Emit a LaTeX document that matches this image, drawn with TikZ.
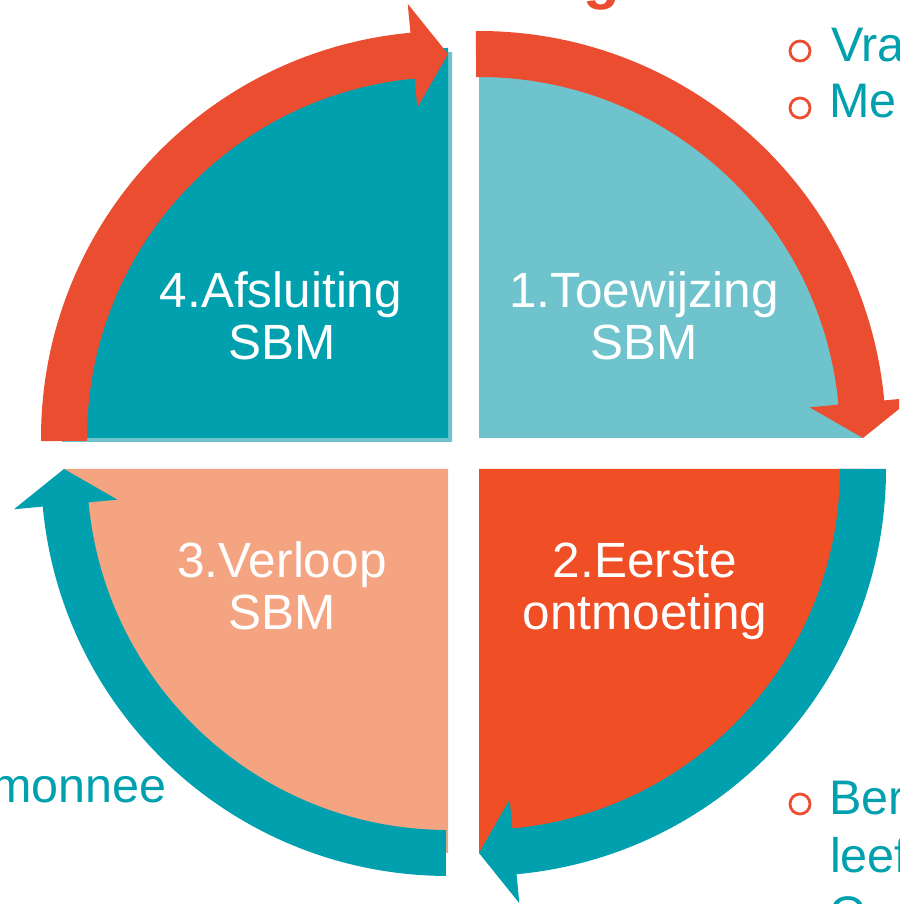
\documentclass[tikz,border=0pt]{standalone}
\usepackage{fontspec}
\setmainfont{Liberation Sans}
\definecolor{cDark}{HTML}{00A0AE}
\definecolor{cLight}{HTML}{6EC3CD}
\definecolor{cRed}{HTML}{EB4D31}
\definecolor{cOrange}{HTML}{F04E25}
\definecolor{cSalmon}{HTML}{F5A482}
\tikzset{
  pielabel/.style={text=white, font=\fontsize{49.5}{52}\selectfont, inner sep=0pt, anchor=base},
  sidetext/.style={text=cDark, font=\fontsize{48.5}{52}\selectfont, inner sep=0pt, anchor=base west},
  bulletring/.style={draw=cRed, line width=2.8pt},
}
\newcommand\ringarrow[5]{%
  \fill[#5] ([shift={(#1)}]#2:407) arc[start angle=#2,end angle=#3,radius=407]
    -- ([shift={(#1)}]#3:436) -- ([shift={(#1)}]#4:384) -- ([shift={(#1)}]#3:332)
    -- ([shift={(#1)}]#3:361) arc[start angle=#3,end angle=#2,radius=361] -- cycle;}
\begin{document}
\begin{tikzpicture}[x=1pt,y=1pt]
\useasboundingbox (0,0) rectangle (899,904);
\begin{scope}
\clip (0,0) rectangle (899,904);
\coordinate (cTL) at (448,466);
\coordinate (cTR) at (479,466);
\coordinate (cBR) at (479,435);
\coordinate (cBL) at (448,435);
\coordinate (cSh) at (452,462);
% quadrants
\fill[cLight] (cSh) -- ++(180:390) arc[start angle=180,end angle=90,radius=390] -- cycle;
\fill[cDark] (cTL) -- ++(180:390) arc[start angle=180,end angle=90,radius=390] -- cycle;
\fill[cLight] (cTR) -- ++(90:384) arc[start angle=90,end angle=0,radius=384] -- cycle;
\fill[cOrange] (cBR) -- ++(0:384) arc[start angle=0,end angle=-90,radius=384] -- cycle;
\fill[cSalmon] (cBL) -- ++(-90:384) arc[start angle=-90,end angle=-180,radius=384] -- cycle;
% ring arrows
\ringarrow{cTR}{90.45}{5.3}{0}{cRed}
\ringarrow{cBR}{0}{-84.7}{-90}{cDark}
\ringarrow{cBL}{-90.3}{-174.7}{-180}{cDark}
\ringarrow{cTL}{180.45}{95.3}{90}{cRed}
% labels
\node[pielabel] (l4a) at (281,596) {4.Afsluiting};
\node[pielabel] (l4b) at (282,544) {SBM};
\node[pielabel] (l1a) at (644,596) {1.Toewijzing};
\node[pielabel] (l1b) at (644,544) {SBM};
\node[pielabel] (l3a) at (282,326) {3.Verloop};
\node[pielabel] (l3b) at (282,274) {SBM};
\node[pielabel] (l2a) at (645,326) {2.Eerste};
\node[pielabel] (l2b) at (645,274) {ontmoeting};
% side texts
\draw[bulletring] (800,853) circle[radius=10];
\draw[bulletring] (800,796) circle[radius=10];
\draw[bulletring] (800,100) circle[radius=10];
\node[sidetext] (s1) at (831,842) {Vra};
\node[sidetext] (s2) at (829,786) {Me};
\node[sidetext] (s3) at (829,89) {Ber};
\node[sidetext] (s4) at (830,31) {leef};
\node[sidetext] (s5) at (829,-27) {O};
\node[text=cDark, font=\fontsize{48.5}{52}\selectfont, inner sep=0pt, anchor=base east] (s6) at (167,101) {monnee};
\node[text=cRed, font=\fontsize{60}{60}\selectfont\bfseries, inner sep=0pt, anchor=base] (hg) at (602,906) {g};
\end{scope}
\end{tikzpicture}
\end{document}
